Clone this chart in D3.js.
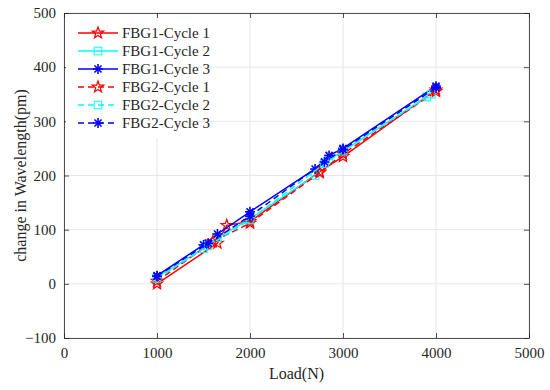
<!DOCTYPE html>
<html>
<head>
  <script src="https://d3js.org/d3.v7.min.js"></script>
  <style>
    body { margin: 0; background: #fff; }
    text { font-family: "Liberation Serif", "Times New Roman", serif; fill: #262626; }
  </style>
</head>
<body>
<script>
  var width = 550, height = 390;

  // series names and values, [load (N), wavelength change (pm)]
  var seriesNames = ["FBG1-Cycle 1", "FBG1-Cycle 2", "FBG1-Cycle 3",
                     "FBG2-Cycle 1", "FBG2-Cycle 2", "FBG2-Cycle 3"];
  var fbg1Cycle1 = [[1000, 0], [1650, 75], [1750, 108], [2000, 115], [2750, 207], [3000, 235], [4000, 358]];
  var fbg1Cycle2 = [[1000, 12], [1500, 65], [1650, 85], [2000, 120], [2700, 200], [2850, 230], [3000, 245], [3900, 345]];
  var fbg1Cycle3 = [[1000, 15], [1500, 72], [1650, 92], [2000, 133], [2700, 212], [2850, 237], [3000, 250], [4000, 365]];
  var fbg2Cycle1 = [[1000, 5], [1600, 78], [2000, 112], [2750, 205], [3000, 240], [4000, 355]];
  var fbg2Cycle2 = [[1000, 10], [1550, 70], [2000, 118], [2800, 222], [3000, 245], [3950, 350]];
  var fbg2Cycle3 = [[1000, 14], [1550, 75], [2000, 125], [2800, 225], [3000, 248], [4000, 362]];
  var xTicks = [0, 1000, 2000, 3000, 4000, 5000];
  var yTicks = [-100, 0, 100, 200, 300, 400, 500];

  var allSeries = [fbg1Cycle1, fbg1Cycle2, fbg1Cycle3, fbg2Cycle1, fbg2Cycle2, fbg2Cycle3];
  var colors = ["#ff0000", "#00ffff", "#0000ff", "#ff0000", "#00ffff", "#0000ff"];
  var markers = ["star", "square", "asterisk", "star", "square", "asterisk"];
  var dashed = [false, false, false, true, true, true];

  var margin = {left: 64, right: 21, top: 13, bottom: 52};
  var serif = "'Liberation Serif', 'Times New Roman', serif";

  var svg = d3.select("body").append("svg")
    .attr("width", width)
    .attr("height", height);

  var x = d3.scaleLinear().domain([0, 5000]).range([margin.left, width - margin.right]);
  var y = d3.scaleLinear().domain([-100, 500]).range([height - margin.bottom, margin.top]);

  // grid
  svg.append("g").selectAll("line.gx")
    .data(xTicks).enter().append("line")
    .attr("x1", d => x(d)).attr("x2", d => x(d))
    .attr("y1", y(-100)).attr("y2", y(500))
    .attr("stroke", "#e6e6e6").attr("stroke-width", 1);
  svg.append("g").selectAll("line.gy")
    .data(yTicks).enter().append("line")
    .attr("x1", x(0)).attr("x2", x(5000))
    .attr("y1", d => y(d)).attr("y2", d => y(d))
    .attr("stroke", "#e6e6e6").attr("stroke-width", 1);

  // axes
  var xAxis = svg.append("g")
    .attr("transform", "translate(0," + y(-100) + ")")
    .call(d3.axisBottom(x).tickValues(xTicks).tickSizeInner(-5).tickSizeOuter(0).tickPadding(9)
      .tickFormat(d3.format("d")));
  var yAxis = svg.append("g")
    .attr("transform", "translate(" + x(0) + ",0)")
    .call(d3.axisLeft(y).tickValues(yTicks).tickSizeInner(-5).tickSizeOuter(0).tickPadding(8)
      .tickFormat(d => d < 0 ? "\u2212" + Math.abs(d) : d));
  var xTop = svg.append("g")
    .attr("transform", "translate(0," + y(500) + ")")
    .call(d3.axisTop(x).tickValues(xTicks).tickSizeInner(-5).tickSizeOuter(0).tickFormat(""));
  var yRight = svg.append("g")
    .attr("transform", "translate(" + x(5000) + ",0)")
    .call(d3.axisRight(y).tickValues(yTicks).tickSizeInner(-5).tickSizeOuter(0).tickFormat(""));

  [xAxis, yAxis, xTop, yRight].forEach(function(a) {
    a.attr("font-family", serif);
    a.selectAll("path, line").attr("stroke", "#262626").attr("stroke-width", 0.8);
    a.selectAll("text").style("font-size", "15px").style("font-family", serif).attr("fill", "#262626");
  });

  // marker drawing
  function drawMarker(g, type, color, cx, cy, s) {
    if (type === "star") {
      var pts = [];
      for (var i = 0; i < 10; i++) {
        var r = i % 2 === 0 ? s : s * 0.4;
        var a = -Math.PI / 2 + i * Math.PI / 5;
        pts.push([cx + r * Math.cos(a), cy + r * Math.sin(a)]);
      }
      g.append("polygon").attr("points", pts.map(p => p.join(",")).join(" "))
        .attr("fill", "none").attr("stroke", color).attr("stroke-width", 1.2);
    } else if (type === "square") {
      var h = 3.8;
      g.append("rect").attr("x", cx - h).attr("y", cy - h)
        .attr("width", 2 * h).attr("height", 2 * h)
        .attr("fill", "none").attr("stroke", color).attr("stroke-width", 1);
    } else {
      var h2 = 5;
      for (var k = 0; k < 4; k++) {
        var ang = k * Math.PI / 4;
        g.append("line")
          .attr("x1", cx - h2 * Math.cos(ang)).attr("y1", cy - h2 * Math.sin(ang))
          .attr("x2", cx + h2 * Math.cos(ang)).attr("y2", cy + h2 * Math.sin(ang))
          .attr("stroke", color).attr("stroke-width", 1.6);
      }
    }
  }

  var line = d3.line().x(d => x(d[0])).y(d => y(d[1]));
  var plot = svg.append("g");

  allSeries.forEach(function(data, i) {
    plot.append("path")
      .datum(data)
      .attr("d", line)
      .attr("fill", "none")
      .attr("stroke", colors[i])
      .attr("stroke-width", 1.5)
      .attr("stroke-dasharray", dashed[i] ? "6,4" : null);
    data.forEach(function(d) {
      drawMarker(plot, markers[i], colors[i], x(d[0]), y(d[1]), 6);
    });
  });

  // legend
  var leg = svg.append("g");
  leg.append("rect")
    .attr("x", x(0) + 2).attr("y", y(500) + 8)
    .attr("width", 124).attr("height", 117)
    .attr("fill", "#fff").attr("stroke", "none");
  seriesNames.forEach(function(name, i) {
    var ly = 33 + i * 18;
    leg.append("line")
      .attr("x1", 78).attr("x2", 118).attr("y1", ly).attr("y2", ly)
      .attr("stroke", colors[i]).attr("stroke-width", 1.5)
      .attr("stroke-dasharray", dashed[i] ? "6,4" : null);
    drawMarker(leg, markers[i], colors[i], 98, ly, 6);
    leg.append("text")
      .attr("x", 122).attr("y", ly)
      .attr("dy", "0.35em")
      .style("font-size", "15px")
      .style("font-family", serif)
      .text(name);
  });

  // axis titles
  svg.append("text")
    .attr("x", (x(0) + x(5000)) / 2).attr("y", 379)
    .attr("text-anchor", "middle")
    .style("font-size", "16px")
    .style("font-family", serif)
    .text("Load(N)");
  svg.append("text")
    .attr("transform", "translate(26," + ((y(500) + y(-100)) / 2) + ") rotate(-90)")
    .attr("text-anchor", "middle")
    .style("font-size", "16px")
    .style("font-family", serif)
    .text("change in Wavelength(pm)");
</script>
</body>
</html>
